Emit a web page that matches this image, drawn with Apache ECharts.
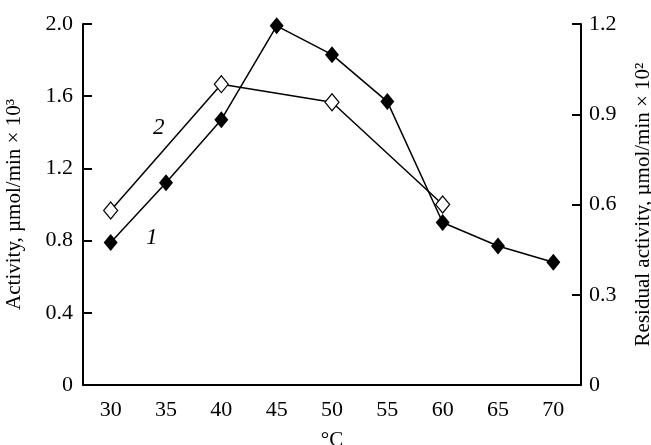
<!DOCTYPE html>
<html><head><meta charset="utf-8">
<script src="https://cdn.jsdelivr.net/npm/echarts@6/dist/echarts.min.js"></script>
<style>body{margin:0}#c{width:651px;height:445px}</style></head>
<body><div id="c"></div>
<script>
var temps = ['30', '35', '40', '45', '50', '55', '60', '65', '70'];
var activity = [0.79, 1.12, 1.47, 1.99, 1.83, 1.57, 0.90, 0.77, 0.68];
var residual = [0.58, null, 1.0, null, 0.94, null, 0.6, null, null];

var font = '"Liberation Serif"';
var txt = {fontFamily: font, fontSize: 22, color: '#000'};
var nameTxt = {fontFamily: font, fontSize: 21, color: '#000'};
function fmt(v) { return v === 0 ? '0' : v.toFixed(1); }
var chart = echarts.init(document.getElementById('c'));
chart.setOption({
    animation: false,
    grid: {left: 83, right: 70, top: 24, bottom: 60, outerBoundsMode: 'none', containLabel: false},
    xAxis: {
        type: 'category', data: temps, boundaryGap: true,
        name: '°C', nameLocation: 'middle', nameGap: 45, nameTextStyle: nameTxt,
        axisLine: {lineStyle: {color: '#000', width: 2}},
        axisTick: {inside: true, length: 9, lineStyle: {color: '#000', width: 2}},
        axisLabel: Object.assign({margin: 14}, txt),
        splitLine: {show: false}
    },
    yAxis: [{
        type: 'value', min: 0, max: 2.0, interval: 0.4,
        name: 'Activity, µmol/min × 10³', nameLocation: 'middle', nameGap: 58, nameTextStyle: nameTxt,
        axisLine: {show: true, lineStyle: {color: '#000', width: 2}},
        axisTick: {show: true, inside: true, length: 9, lineStyle: {color: '#000', width: 2}},
        axisLabel: Object.assign({margin: 10, formatter: fmt}, txt),
        splitLine: {show: false}
    }, {
        type: 'value', min: 0, max: 1.2, interval: 0.3,
        name: 'Residual activity, µmol/min × 10²', nameLocation: 'middle', nameGap: 52,
        nameRotate: 90, nameTextStyle: nameTxt,
        axisLine: {show: true, lineStyle: {color: '#000', width: 2}},
        axisTick: {show: true, inside: true, length: 9, lineStyle: {color: '#000', width: 2}},
        axisLabel: Object.assign({margin: 8, formatter: fmt}, txt),
        splitLine: {show: false}
    }],
    series: [{
        type: 'line', yAxisIndex: 0, data: activity,
        symbol: 'diamond', symbolSize: [14, 17],
        itemStyle: {color: '#000'}, lineStyle: {color: '#000', width: 1.5}
    }, {
        type: 'line', yAxisIndex: 1, data: residual, connectNulls: true,
        symbol: 'diamond', symbolSize: [14, 17],
        itemStyle: {color: '#fff', borderColor: '#000', borderWidth: 1.2},
        lineStyle: {color: '#000', width: 1.5}
    }],
    graphic: [
        {type: 'text', left: 146, top: 226, style: {text: '1', font: 'italic 23px "Liberation Serif"', fill: '#000'}},
        {type: 'text', left: 153, top: 116, style: {text: '2', font: 'italic 23px "Liberation Serif"', fill: '#000'}}
    ]
});
</script></body></html>
